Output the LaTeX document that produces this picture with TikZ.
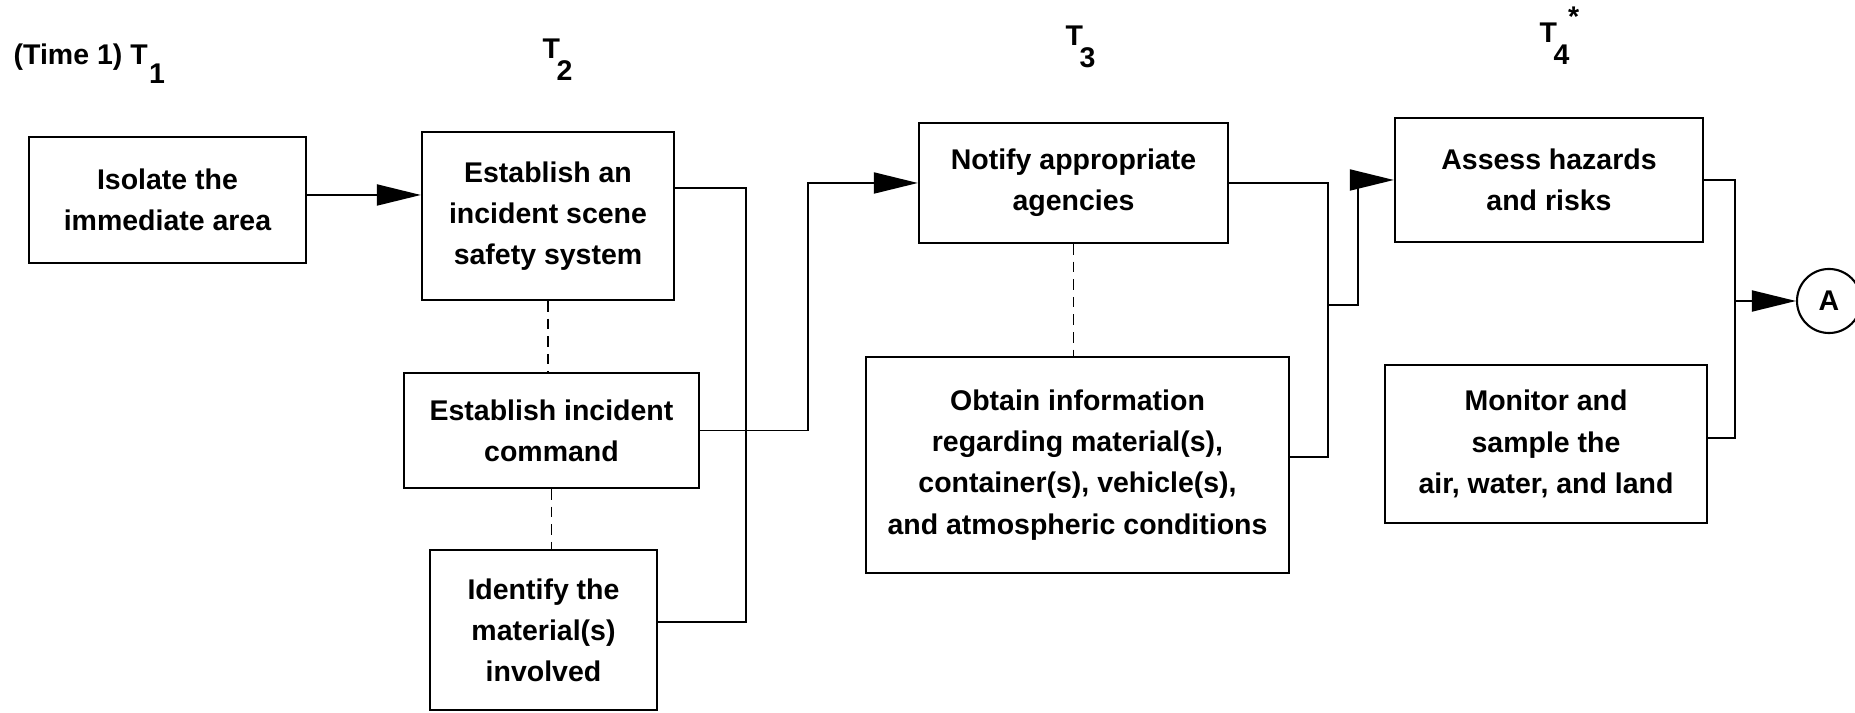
\documentclass[tikz,border=0pt]{standalone}
\usepackage{fontspec}
\setmainfont{Liberation Sans}
\usetikzlibrary{arrows.meta}
\tikzset{
  box/.style={draw, line width=0.6pt, inner sep=0pt, align=center,
    font=\bfseries\fontsize{8.1}{11.7}\selectfont},
  lbl/.style={inner sep=0pt, anchor=base west, font=\bfseries\fontsize{8.1}{10}\selectfont},
  conn/.style={line width=0.55pt},
  arr/.style={conn, -{Triangle[length=0.44cm,width=0.21cm]}},
  dsh/.style={line width=0.55pt, dash pattern=on 3pt off 2pt},
}
\newcommand{\dn}[1]{\raisebox{-1.4ex}{#1}}
\begin{document}
\begin{tikzpicture}[x=0.01cm,y=-0.01cm]
\useasboundingbox (0,0) rectangle (1855,713);

% time labels
\node[lbl] (t1) at (13,65) {(Time 1) T\kern0.05em\raisebox{-1.2ex}{1}};
\node[lbl] (t2) at (542,59) {T\kern-0.12em\dn{2}};
\node[lbl] (t3) at (1065,46) {T\kern-0.12em\dn{3}};
\node[lbl] (t4) at (1539,43) {T\kern-0.12em\dn{4}\kern-0.05em\raisebox{1.1ex}{*}};

% boxes
\node[box, minimum width=2.77cm, minimum height=1.26cm] (iso) at (167.5,200)
  {Isolate the\\immediate area};
\node[box, minimum width=2.52cm, minimum height=1.68cm] (estA) at (548,216)
  {Establish an\\incident scene\\safety system};
\node[box, minimum width=2.95cm, minimum height=1.15cm] (cmd) at (551.5,430.5)
  {Establish incident\\command};
\node[box, minimum width=2.27cm, minimum height=1.60cm] (ident) at (543.5,630)
  {Identify the\\material(s)\\involved};
\node[box, minimum width=3.09cm, minimum height=1.20cm] (notify) at (1073.5,183)
  {Notify appropriate\\agencies};
\node[box, minimum width=4.23cm, minimum height=2.16cm] (obtain) at (1077.5,465)
  {Obtain information\\regarding material(s),\\container(s), vehicle(s),\\and atmospheric conditions};
\node[box, minimum width=3.08cm, minimum height=1.24cm] (assess) at (1549,180)
  {Assess hazards\\and risks};
\node[box, minimum width=3.22cm, minimum height=1.58cm] (monitor) at (1546,444)
  {Monitor and\\sample the\\air, water, and land};
\node[draw, circle, line width=0.6pt, minimum size=0.64cm, inner sep=0pt,
  font=\bfseries\fontsize{8.1}{10}\selectfont] (circA) at (1829,301) {A};

% helper coordinates
\coordinate (isoOut) at ([yshift=0.05cm]iso.east);
\coordinate (estAOut) at ([yshift=0.28cm]estA.east);
\coordinate (identOut) at ([yshift=0.08cm]ident.east);
\coordinate (obtOut) at ([yshift=0.08cm]obtain.east);
\coordinate (monOut) at ([yshift=0.06cm]monitor.east);
\coordinate (b1) at (746,0);
\coordinate (b2) at (808,0);
\coordinate (b3) at (1328,0);
\coordinate (b4) at (1358,0);
\coordinate (b5) at (1735,0);
\coordinate (j2) at (1328,305);

% connectors
\draw[arr] (isoOut) -- (isoOut -| estA.west);
\draw[conn] (estAOut) -- (estAOut -| b1) -- (identOut -| b1) -- (identOut);
\draw[arr] (cmd.east) -- (cmd.east -| b2) -- (notify.west -| b2) -- (notify.west);
\draw[conn] (notify.east) -- (notify.east -| b3) -- (obtOut -| b3) -- (obtOut);
\draw[arr] (j2) -- (j2 -| b4) -- (assess.west -| b4) -- (assess.west);
\draw[conn] (assess.east) -- (assess.east -| b5) -- (monOut -| b5) -- (monOut);
\draw[arr] (circA.west -| b5) -- (circA.west);

% dashed links
\draw[dsh] (estA.south) -- (estA.south |- cmd.north);
\draw[dsh] (cmd.south) -- (cmd.south |- ident.north);
\draw[dsh] (notify.south) -- (notify.south |- obtain.north);
\end{tikzpicture}
\end{document}
